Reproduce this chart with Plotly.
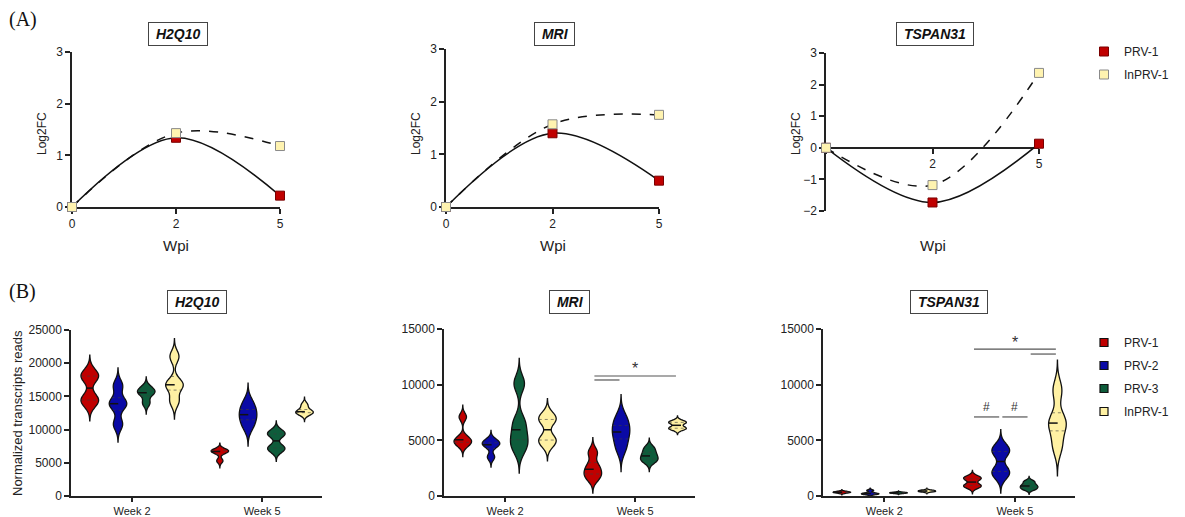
import numpy as np
import plotly.graph_objects as go

# ---------------- data: panel (A) log2 fold change ----------------
WPI = ["0", "2", "5"]
GENES = ["H2Q10", "MRI", "TSPAN31"]
H2Q10_PRV1 = [0, 1.34, 0.22]
H2Q10_INPRV1 = [0, 1.43, 1.18]
MRI_PRV1 = [0, 1.40, 0.50]
MRI_INPRV1 = [0, 1.57, 1.75]
TSPAN31_PRV1 = [0, -1.73, 0.13]
TSPAN31_INPRV1 = [0, -1.18, 2.37]

# ---------------- data: panel (B) normalized reads (per group samples) ----------------
WEEKS = ["Week 2", "Week 5"]
GROUPS = ["PRV-1", "PRV-2", "PRV-3", "InPRV-1"]
H2Q10_W2 = [[14300, 14500, 18000, 18200], [10800, 13600, 14200, 16600],
            [14000, 15400, 15700, 16300], [14300, 16500, 17000, 21000]]
H2Q10_W5 = [[5300, 6600, 6800, 6900], [10500, 11800, 12700, 14000],
            [7000, 7300, 9300, 9500], [12400, 12600, 12800, 13700]]
MRI_W2 = [[4600, 4900, 5200, 7100], [3500, 4500, 4700, 5000],
          [4300, 5300, 6600, 10100], [4800, 5100, 6800, 7100]]
MRI_W5 = [[1600, 2100, 2700, 3900], [4300, 5400, 6100, 7000],
          [3100, 3400, 3800, 4300], [6050, 6100, 6600, 6650]]
TSPAN31_W2 = [[280, 320, 360, 400], [150, 200, 250, 500],
              [240, 270, 300, 330], [380, 420, 470, 520]]
TSPAN31_W5 = [[800, 1000, 1500, 1700], [1900, 2300, 3900, 4300],
              [600, 800, 1000, 1300], [4500, 6300, 6800, 9500]]
# kernel bandwidths used for the density estimates
H2Q10_BW = [[1000, 900, 550, 900], [350, 1000, 600, 400]]
MRI_BW = [[350, 300, 750, 550], [450, 700, 300, 180]]
TSPAN31_BW = [[60, 70, 40, 60], [200, 550, 150, 900]]
# significance bars: (group from, group to, y, label)
H2Q10_SIG = []
MRI_SIG = [(0, 3, 10780, "*"), (0, 1, 10420, "")]
TSPAN31_SIG = [(0, 3, 13200, "*"), (2, 3, 12750, ""), (0, 1, 7100, "#"), (1, 2, 7100, "#")]

A_DATA = {"H2Q10": (H2Q10_PRV1, H2Q10_INPRV1), "MRI": (MRI_PRV1, MRI_INPRV1),
          "TSPAN31": (TSPAN31_PRV1, TSPAN31_INPRV1)}
B_DATA = {"H2Q10": (H2Q10_W2, H2Q10_W5), "MRI": (MRI_W2, MRI_W5), "TSPAN31": (TSPAN31_W2, TSPAN31_W5)}
B_BW = {"H2Q10": H2Q10_BW, "MRI": MRI_BW, "TSPAN31": TSPAN31_BW}
B_SIG = {"H2Q10": H2Q10_SIG, "MRI": MRI_SIG, "TSPAN31": TSPAN31_SIG}

# ---------------- styles / layout ----------------
FW, FH = 1185, 517
FONT = "Liberation Sans, Arial, sans-serif"
TXT = "#222"
VCOL = ["#C00000", "#0A0AA5", "#0E5C3B", "#FFF1A3"]
A_FILL = ["#C00000", "#FFF3B0"]
A_EDGE = ["#7a0000", "#8a8a8a"]
A_DASH = ["solid", "dash"]
A_YRANGE = [[0, 3], [0, 3], [-2, 3]]
B_YRANGE = [[0, 25000], [0, 15000], [0, 15000]]
A_BOX = [(72, 280, 207, 52), (446, 659, 207, 49), (826, 1039, 211, 53)]
B_BOX = [(71, 322, 496, 330), (444, 695, 496, 329), (823, 1075, 496, 329)]
GAP = 0.217
VW = 0.135
B_XRANGE = [-0.47, 1.46]


def px_x(p):
    return p / FW


def px_y(p):
    return 1 - p / FH


def axname(k):
    return "" if k == 1 else str(k)


fig = go.Figure()
layout = {}
annotations = []


def note(text, x, y, size, xanchor="center", **kw):
    d = dict(text=text, x=px_x(x), y=px_y(y), xref="paper", yref="paper", showarrow=False,
             xanchor=xanchor, yanchor="middle",
             font=dict(family=kw.pop("family", FONT), size=size, color=kw.pop("color", TXT)))
    d.update(kw)
    annotations.append(d)


axis_common = dict(showgrid=False, zeroline=False, showline=True, linecolor=TXT, linewidth=1.5,
                   ticks="outside", ticklen=5, tickwidth=1.5, tickcolor=TXT, automargin=False,
                   tickfont=dict(family=FONT, size=12, color=TXT))

# ---------- row A ----------
for i, gene in enumerate(GENES):
    k = i + 1
    x0, x1, yb, yt = A_BOX[i]
    ydom = [px_y(yb), px_y(yt)]
    yr = A_YRANGE[i]
    xa = dict(axis_common, type="category", range=[0, 2], domain=[px_x(x0), px_x(x1)],
              tickvals=WPI, ticktext=WPI, layer="below traces")
    if yr[0] < 0:
        pos = ydom[0] + (0 - yr[0]) / (yr[1] - yr[0]) * (ydom[1] - ydom[0])
        xa.update(anchor="free", position=pos, ticktext=[""] + WPI[1:])
    else:
        xa.update(anchor="y" + axname(k))
    ya = dict(axis_common, range=yr, dtick=1, domain=ydom, anchor="x" + axname(k), layer="below traces")
    layout["xaxis" + axname(k)] = xa
    layout["yaxis" + axname(k)] = ya
    for s, vals in enumerate(A_DATA[gene]):
        fig.add_trace(go.Scatter(
            x=WPI, y=vals, mode="lines+markers", cliponaxis=False,
            line=dict(shape="spline", smoothing=1, color="#111", width=1.5, dash=A_DASH[s]),
            marker=dict(symbol="square", size=9, color=A_FILL[s], line=dict(color=A_EDGE[s], width=1)),
            showlegend=False, hoverinfo="skip", xaxis="x" + axname(k), yaxis="y" + axname(k)))
    cx = (x0 + x1) / 2
    note("Wpi", cx, 246, 15)
    note("Log2FC", x0 - 30, 134, 12, textangle=-90)
    note("<b><i>\u00a0" + gene + "\u00a0</i></b>", cx + 2, 34, 14, color="#111", bgcolor="white",
         bordercolor="#444", borderwidth=1, borderpad=3)

# legend entries for row A
for s, name in enumerate(["PRV-1", "InPRV-1"]):
    fig.add_trace(go.Scatter(x=[None], y=[None], mode="markers", name=name, legend="legend",
                             legendgroup="a" + name,
                             marker=dict(symbol="square", size=9, color=A_FILL[s],
                                         line=dict(color=A_EDGE[s], width=1)),
                             xaxis="x", yaxis="y"))


def kde(samples, bw, y):
    s = np.asarray(samples, dtype=float)[:, None]
    y = np.atleast_1d(np.asarray(y, dtype=float))
    return np.exp(-0.5 * ((y[None, :] - s) / bw) ** 2).sum(axis=0)


# ---------- row B ----------
for i, gene in enumerate(GENES):
    k = i + 4
    x0, x1, yb, yt = B_BOX[i]
    layout["xaxis" + axname(k)] = dict(axis_common, range=B_XRANGE, domain=[px_x(x0), px_x(x1)],
                                       tickvals=[0, 1], ticktext=WEEKS, anchor="y" + axname(k),
                                       ticklen=4, tickfont=dict(family=FONT, size=11, color=TXT))
    layout["yaxis" + axname(k)] = dict(axis_common, range=B_YRANGE[i], dtick=5000, tickformat="d",
                                       domain=[px_y(yb), px_y(yt)], anchor="x" + axname(k))
    xr, yr = "x" + axname(k), "y" + axname(k)
    med_x, med_y, q_x, q_y = [], [], [], []
    for w in range(2):
        for g in range(4):
            smp = B_DATA[gene][w][g]
            bw = B_BW[gene][w][g]
            pos = w + (g - 1.5) * GAP
            lo, hi = min(smp) - 3 * bw, max(smp) + 3 * bw
            fig.add_trace(go.Violin(
                x=[pos] * len(smp), y=smp, orientation="v", width=VW, bandwidth=bw,
                spanmode="manual", span=[lo, hi], points=False, scalemode="width",
                box_visible=False, meanline_visible=False, fillcolor=VCOL[g],
                line=dict(color="#111", width=1.3), opacity=1, showlegend=False,
                hoverinfo="skip", xaxis=xr, yaxis=yr))
            grid = np.linspace(lo, hi, 600)
            dmax = kde(smp, bw, grid).max()
            med = float(np.median(smp))
            hw = VW / 2 * kde(smp, bw, med)[0] / dmax
            med_x += [pos - hw, pos + hw, None]
            med_y += [med, med, None]
            for q in np.percentile(smp, [25, 75]):
                hq = VW / 2 * kde(smp, bw, q)[0] / dmax
                q_x += [pos - hq, pos + hq, None]
                q_y += [float(q), float(q), None]
    fig.add_trace(go.Scatter(x=q_x, y=q_y, mode="lines", showlegend=False, hoverinfo="skip",
                             line=dict(color="rgba(60,60,60,0.6)", width=1, dash="dot"),
                             xaxis=xr, yaxis=yr))
    fig.add_trace(go.Scatter(x=med_x, y=med_y, mode="lines", showlegend=False, hoverinfo="skip",
                             line=dict(color="#111", width=1.5, dash="dash"), xaxis=xr, yaxis=yr))
    # significance bars
    sx, sy = [], []
    for g1, g2, yv, lab in B_SIG[gene]:
        a = 1 + (g1 - 1.5) * GAP + 0.012
        b = 1 + (g2 - 1.5) * GAP - 0.012
        sx += [a, b, None]
        sy += [yv, yv, None]
        if lab:
            annotations.append(dict(text=lab, x=(a + b) / 2, y=yv, xref=xr, yref=yr, showarrow=False,
                                    xanchor="center", yanchor="middle",
                                    yshift=10 if lab == "#" else 7,
                                    font=dict(family=FONT, size=16 if lab == "*" else 12,
                                              color="#333")))
    if sx:
        fig.add_trace(go.Scatter(x=sx, y=sy, mode="lines", showlegend=False, hoverinfo="skip",
                                 line=dict(color="#555", width=1.2), xaxis=xr, yaxis=yr))
    cx = (x0 + x1) / 2
    note("<b><i>\u00a0" + gene + "\u00a0</i></b>", cx, 302, 14, color="#111", bgcolor="white",
         bordercolor="#444", borderwidth=1, borderpad=3)

# legend entries for row B
for g, name in enumerate(GROUPS):
    fig.add_trace(go.Scatter(x=[None], y=[None], mode="markers", name=name, legend="legend2",
                             legendgroup="b" + name,
                             marker=dict(symbol="square", size=8, color=VCOL[g],
                                         line=dict(color="#111", width=1.2)),
                             xaxis="x4", yaxis="y4"))

note("Normalized transcripts reads", 17, 413, 13, textangle=-90)
note("(A)", 7, 20, 20, xanchor="left", family="Liberation Serif, Times New Roman, serif", color="#111")
note("(B)", 7, 291, 20, xanchor="left", family="Liberation Serif, Times New Roman, serif", color="#111")

leg = dict(xanchor="left", yanchor="top", bgcolor="rgba(0,0,0,0)", tracegroupgap=4,
           font=dict(family=FONT, size=12, color=TXT))
layout["legend"] = dict(leg, x=px_x(1084), y=px_y(37))
layout["legend2"] = dict(leg, x=px_x(1084), y=px_y(328))

fig.update_layout(width=FW, height=FH, margin=dict(l=0, r=0, t=0, b=0, pad=0, autoexpand=False),
                  paper_bgcolor="white", plot_bgcolor="white", annotations=annotations,
                  font=dict(family=FONT, color=TXT), hovermode=False, **layout)

fig.write_html("out.html", config={"displayModeBar": False},
               post_script="document.body.style.margin='0px';document.body.style.overflow='hidden';")
